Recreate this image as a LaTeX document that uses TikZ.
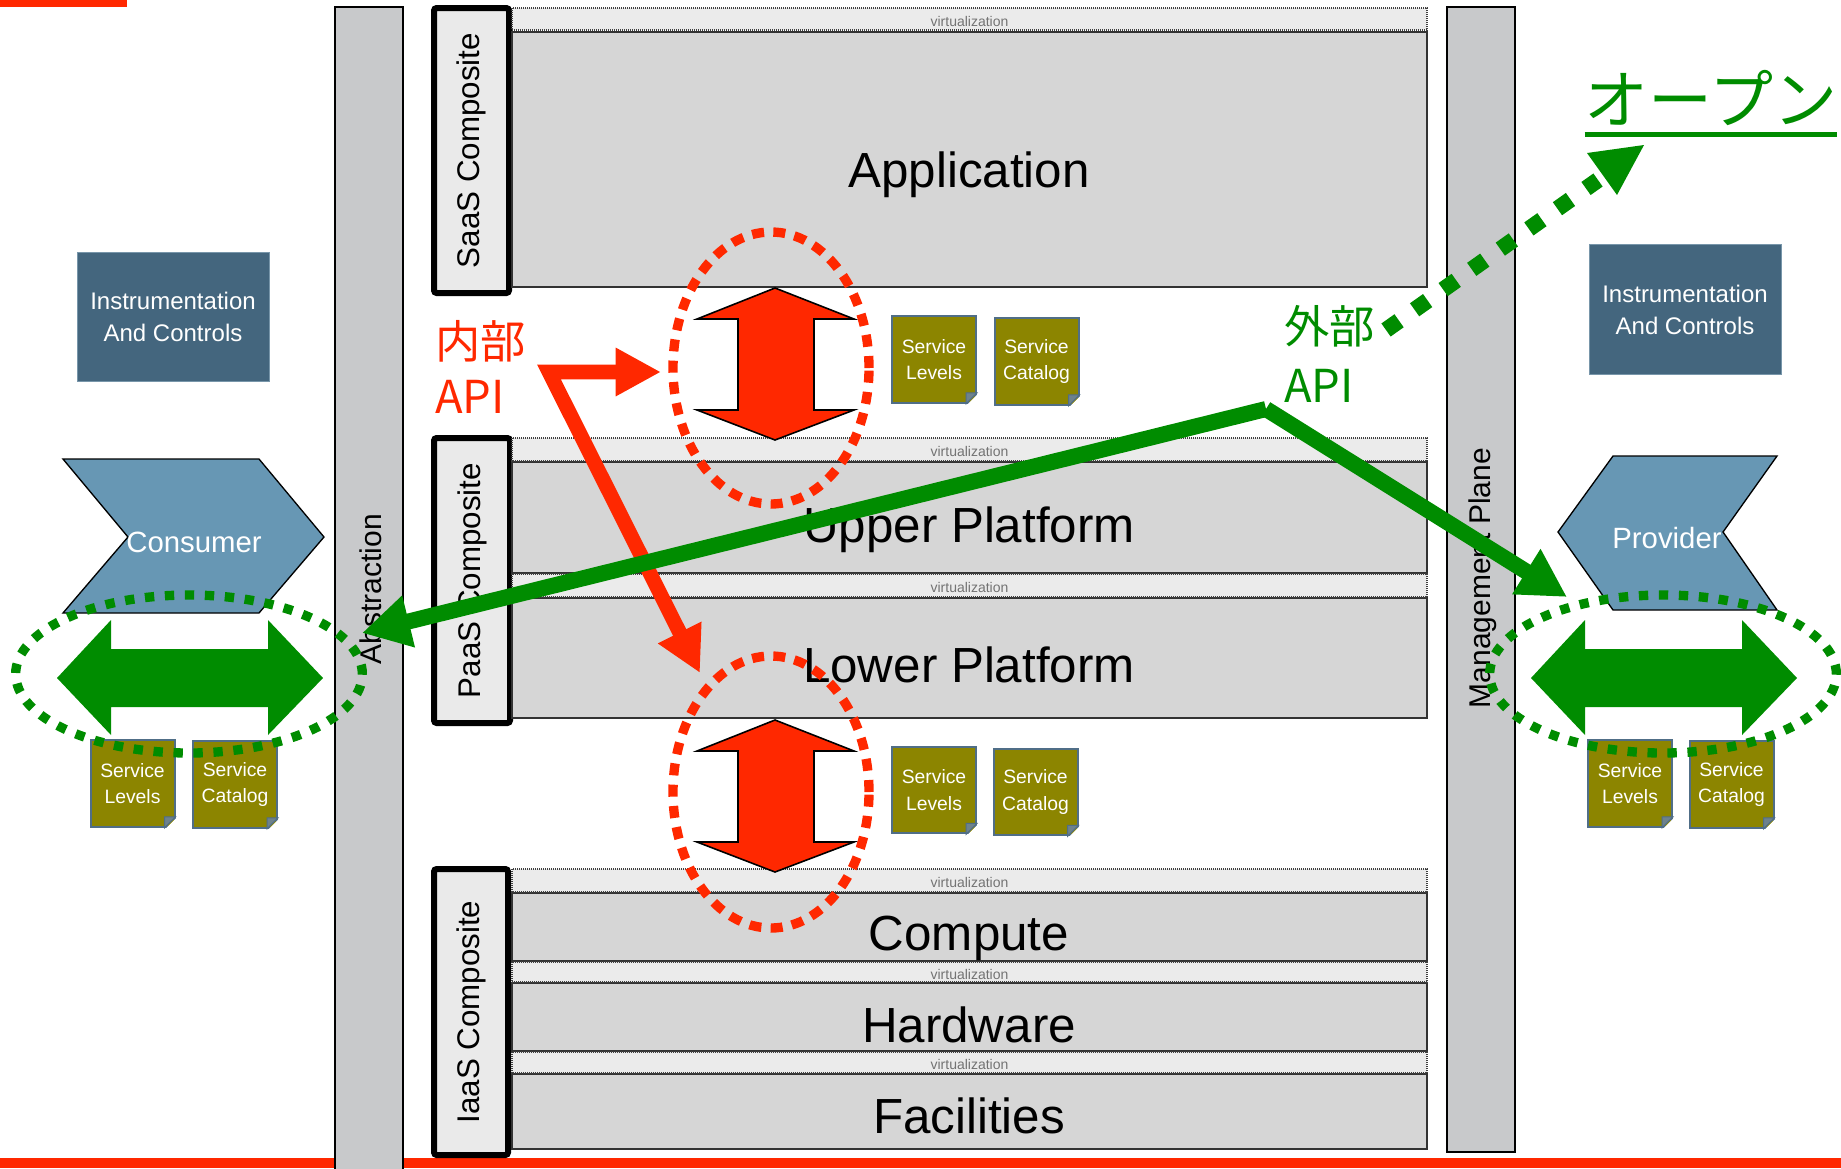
\documentclass[tikz,border=0pt]{standalone}
\usepackage{fontspec}
\setmainfont{Liberation Sans}
\newfontfamily\jpfont{Noto Sans CJK JP}
\usetikzlibrary{arrows.meta,shapes.geometric}

\definecolor{apiRed}{RGB}{255,40,0}
\definecolor{apiGreen}{RGB}{0,140,0}
\definecolor{colGray}{RGB}{200,201,203}
\definecolor{layerGray}{RGB}{214,214,214}
\definecolor{virtGray}{RGB}{235,235,235}
\definecolor{compGray}{RGB}{234,234,234}
\definecolor{instBlue}{RGB}{68,102,126}
\definecolor{instEdge}{RGB}{120,150,170}
\definecolor{chevBlue}{RGB}{103,151,180}
\definecolor{docOlive}{RGB}{140,133,0}
\definecolor{docEdge}{RGB}{80,110,135}
\definecolor{foldGray}{RGB}{110,130,140}

\begin{document}
\begin{tikzpicture}[x=0.75pt,y=0.75pt,yscale=-1,xscale=1,
	colbar/.style={draw=black, line width=1.2pt, fill=colGray},
	coltext/.style={rotate=90, font=\fontsize{22.5}{27}\selectfont},
	compbox/.style={draw=black, line width=4.5pt, fill=compGray, rounded corners=2pt},
	comptext/.style={rotate=90, font=\fontsize{23.5}{28}\selectfont},
	layer/.style={draw=black!80, line width=1.5pt, fill=layerGray},
	virt/.style={draw=black!75, line width=1pt, dash pattern=on 0.75pt off 0.75pt, fill=virtGray},
	virtlbl/.style={font=\fontsize{10.5}{12}\selectfont, text=black!55},
	laytext/.style={font=\fontsize{37}{44}\selectfont, anchor=base},
	instbox/.style={fill=instBlue, draw=instEdge, line width=0.75pt, text=white, align=center, minimum width=144pt, minimum height=97pt, font=\fontsize{18}{24}\selectfont},
	chev/.style={draw=black, line width=1pt, fill=chevBlue},
	chevtext/.style={text=white, font=\fontsize{22}{26}\selectfont},
	svcdoc/.style={draw=docEdge, line width=1.5pt, fill=docOlive, text=white, align=center, minimum width=63pt, minimum height=65pt, inner sep=0pt, font=\fontsize{14.5}{20}\selectfont},
	fold/.style={draw=docEdge, line width=0.75pt, fill=foldGray},
	rdbl/.style={draw=black, line width=1.2pt, fill=apiRed, line join=miter},
	rOval/.style={ellipse, draw=apiRed, line width=7pt, dash pattern=on 9pt off 7pt, minimum width=147pt, minimum height=204pt, inner sep=0pt},
	gOval/.style={ellipse, draw=apiGreen, line width=7pt, dash pattern=on 7pt off 8pt, minimum width=260pt, minimum height=118.5pt, inner sep=0pt},
	jpred/.style={text=apiRed, font=\jpfont\fontsize{34}{40}\selectfont, inner sep=0pt, anchor=base west},
	jpgreen/.style={text=apiGreen, font=\jpfont\fontsize{34}{40}\selectfont, inner sep=0pt, anchor=base west},
	rarrow/.style={draw=apiRed, line width=11pt, line join=miter, {Triangle[length=34pt,width=34pt]}-{Triangle[length=34pt,width=34pt]}},
	garrow/.style={draw=apiGreen, line width=12pt, -{Triangle[length=36pt,width=37.5pt]}},
	gdots/.style={draw=apiGreen, line width=12pt, dash pattern=on 12pt off 14.25pt}]
\useasboundingbox (0,0) rectangle (1841,1168);

%Shape: Rectangle [red bars]
\fill[apiRed] (0,0) rectangle (127,7);
\fill[apiRed] (0,1158) rectangle (1841,1168);

%Shape: Rectangle [columns]
\draw[colbar] (335,7) rectangle (403,1175);
\draw[colbar] (1447,7) rectangle (1515,1152);
% Text Node
\node[coltext] (abstr) at (371,589) {Abstraction};
% Text Node
\node[coltext] (mgmt) at (1483,578) {Management Plane};

%Shape: Rectangle [composites]
\draw[compbox] (434,8) rectangle (509,293);
\draw[compbox] (434,438) rectangle (510,723);
\draw[compbox] (434,869) rectangle (508,1155);
% Text Node
\node[comptext] (saas) at (471.5,150.5) {SaaS Composite};
% Text Node
\node[comptext] (paas) at (472,580.5) {PaaS Composite};
% Text Node
\node[comptext] (iaas) at (471,1012) {IaaS Composite};

%Shape: Rectangle [layers]
\draw[layer] (512,32) rectangle (1427,287);
\draw[layer] (512,462) rectangle (1427,573);
\draw[layer] (512,598) rectangle (1427,718);
\draw[layer] (512,893) rectangle (1427,961);
\draw[layer] (512,983) rectangle (1427,1051);
\draw[layer] (512,1074) rectangle (1427,1149);
\foreach \tp/\bt/\nm in {8/30/virtA, 438/461/virtB, 574/597/virtC, 869/892/virtD, 962/982/virtE, 1052/1073/virtF} {
	\draw[virt] (512,\tp) rectangle (1427,\bt);
	\node[virtlbl] (\nm) at (969.5,{(\tp+\bt)/2+2}) {virtualization};
}
% Text Node
\node[laytext] (app) at (969,187) {Application};
% Text Node
\node[laytext] (upper) at (969,542) {Upper Platform};
% Text Node
\node[laytext] (lower) at (969,682) {Lower Platform};
% Text Node
\node[laytext] (compute) at (969,950) {Compute};
% Text Node
\node[laytext] (hardware) at (969,1042) {Hardware};
% Text Node
\node[laytext] (facil) at (969,1133) {Facilities};

%Shape: Rectangle [instrumentation]
\node[instbox] (instL) at (173,317) {Instrumentation\\And Controls};
\node[instbox] (instR) at (1685,309.5) {Instrumentation\\And Controls};

%Shape: Chevron
\draw[chev] (63,459) -- (259,459) -- (324,537) -- (259,613) -- (63,613) -- (128,537) -- cycle;
\node[chevtext] (consumer) at (194,542) {Consumer};
\draw[chev] (1613,456) -- (1777,456) -- (1723,532) -- (1777,610) -- (1613,610) -- (1558,532) -- cycle;
\node[chevtext] (provider) at (1667,538) {Provider};

%Shape: Left-Right Arrow
\foreach \dx in {0,1474}
	\fill[apiGreen] ({57+\dx},678) -- ({111+\dx},620) -- ({111+\dx},649) -- ({268+\dx},649) -- ({268+\dx},620) -- ({323+\dx},678) -- ({268+\dx},735) -- ({268+\dx},707) -- ({111+\dx},707) -- ({111+\dx},735) -- cycle;

%Shape: Folded Corner
\node[svcdoc] (slL) at (132.5,783.5) {Service\\Levels};
\node[svcdoc] (scL) at (235,784.5) {Service\\Catalog};
\node[svcdoc] (slU) at (934,359.5) {Service\\Levels};
\node[svcdoc] (scU) at (1036.5,361.5) {Service\\Catalog};
\node[svcdoc] (slD) at (934,790) {Service\\Levels};
\node[svcdoc] (scD) at (1035.5,792) {Service\\Catalog};
\node[svcdoc] (slR) at (1630,783.5) {Service\\Levels};
\node[svcdoc] (scR) at (1731.5,784.5) {Service\\Catalog};
\foreach \d in {slL,scL,slU,scU,slD,scD,slR,scR} {
	\fill[white] ([shift={(2,2)}]\d.south east) -- ([shift={(2,-11)}]\d.south east) -- ([shift={(-11,2)}]\d.south east) -- cycle;
	\filldraw[fold] ([shift={(0,-11)}]\d.south east) -- ([shift={(-11,0)}]\d.south east) -- ([shift={(-11,-11)}]\d.south east) -- cycle;
}

%Shape: Up-Down Arrow
\foreach \t in {288,720}
	\filldraw[rdbl] (775,\t) -- (854,{\t+31}) -- (814,{\t+31}) -- (814,{\t+122}) -- (854,{\t+122}) -- (775,{\t+152}) -- (697,{\t+122}) -- (738,{\t+122}) -- (738,{\t+31}) -- (697,{\t+31}) -- cycle;

%Shape: Ellipse
\node[rOval] (upOval) at (771,368) {};
\node[rOval] (loOval) at (771,792) {};
\node[gOval] (gOvalL) at (189,674) {};
\node[gOval] (gOvalR) at (1663,674) {};

% Text Node
\node[jpred] (inLbl) at (435,358) {内部};
\node[jpred] (inApi) at (435,413) {API};
% Text Node
\node[jpgreen] (exLbl) at (1284,343) {外部};
\node[jpgreen] (exApi) at (1284,402) {API};
% Text Node
\node[jpgreen, font=\jpfont\fontsize{48}{56}\selectfont, anchor=base] (openLbl) at (1711,123) {オープン};
\draw[apiGreen, line width=3.75pt] ([shift={(0,11)}]openLbl.base west) -- ([shift={(0,11)}]openLbl.base east);

%Shape: dotted arrow
\coordinate (openFrom) at (1386,330);
\coordinate (openTo) at (1598,180);
\coordinate (openTip) at (1617,195);
\draw[gdots] (openFrom) -- (openTo);
\fill[apiGreen] (openTip) -- ++(-30,-42) -- ++(57,-8) -- cycle;

%Shape: internal API arrow
\coordinate (inCorner) at (549,372);
\coordinate (inTipU) at (661,372);
\coordinate (inTipD) at (700,673);
\draw[rarrow] (inTipU) -- (inCorner) -- (inTipD);

%Shape: external API arrows
\coordinate (gPeak) at (1266,409);
\coordinate (absTip) at (362,633);
\coordinate (mgmtTip) at (1567,597);
\draw[garrow] (gPeak) -- (absTip);
\draw[garrow] (gPeak) -- (mgmtTip);

\end{tikzpicture}
\end{document}
